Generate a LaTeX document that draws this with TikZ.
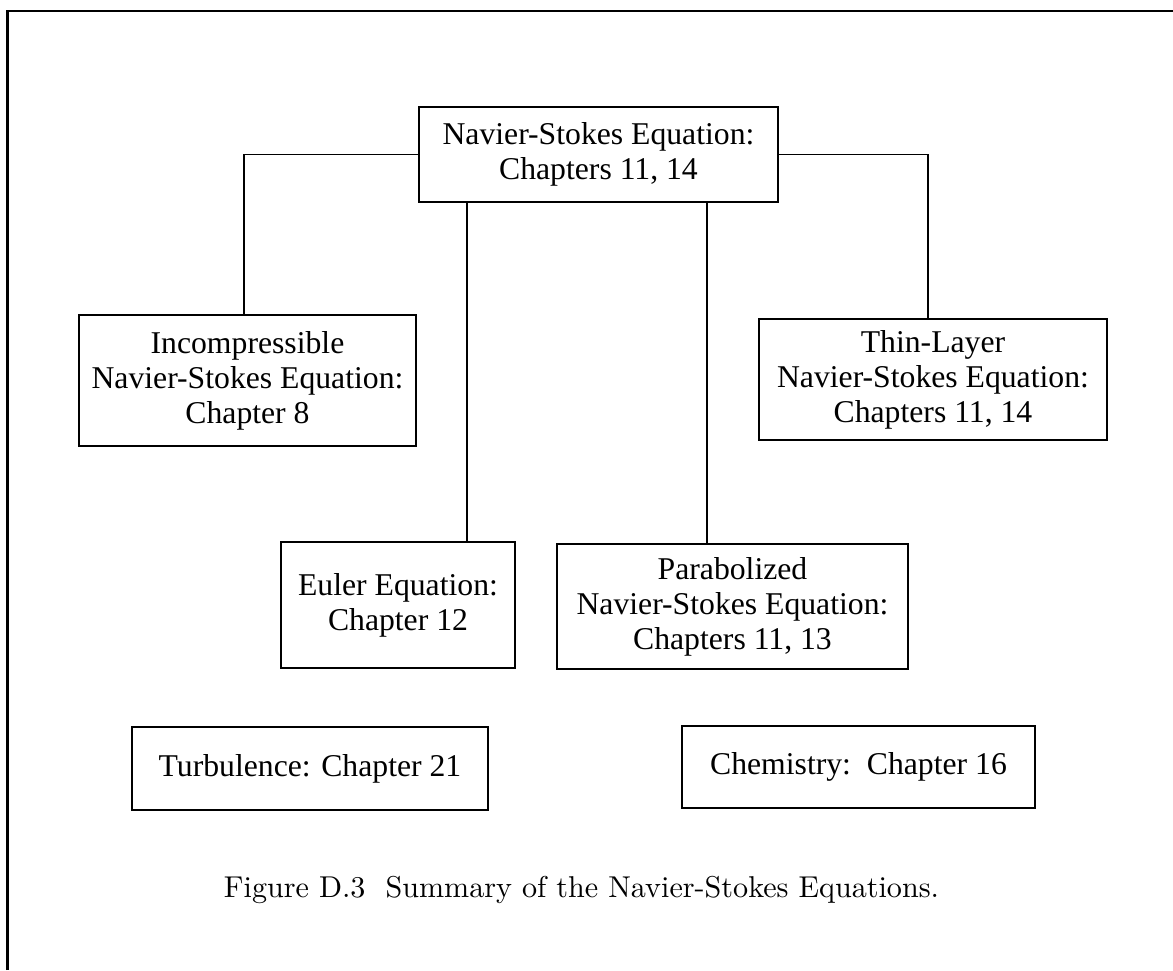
\documentclass[tikz,border=0pt]{standalone}
\usepackage{fontspec}
\newfontfamily\tms{Liberation Serif}
\usepackage{graphicx}
\begin{document}
\begin{tikzpicture}[x=0.5pt,y=-0.5pt,
  box/.style={draw,line width=1pt,inner sep=0pt,align=center,
    font=\tms\fontsize{15.85pt}{17.5pt}\selectfont},
  link/.style={line width=0.9pt},
  frame/.style={line width=1.3pt}]
\useasboundingbox (0,0) rectangle (1173,970);
% frame (left and top edges)
\coordinate (fa) at (7.5,970);
\coordinate (fb) at (7.5,11);
\coordinate (fc) at (1173,11);
\draw[frame] (fa) -- (fb) -- (fc);
% boxes
\node[box,minimum width=179.5pt,minimum height=47.5pt] (top) at (598.5,154.5)
  {Navier-Stokes Equation:\\Chapters 11, 14};
\node[box,minimum width=168.5pt,minimum height=65.5pt] (inc) at (247.5,380.5)
  {Incompressible\\Navier-Stokes Equation:\\Chapter 8};
\node[box,minimum width=174pt,minimum height=60.5pt] (thin) at (933,379.5)
  {Thin-Layer\\Navier-Stokes Equation:\\Chapters 11, 14};
\node[box,minimum width=117pt,minimum height=63pt] (euler) at (398,605)
  {Euler Equation:\\Chapter 12};
\node[box,minimum width=175.5pt,minimum height=62.5pt] (para) at (732.5,606.5)
  {Parabolized\\Navier-Stokes Equation:\\Chapters 11, 13};
\node[box,minimum width=178pt,minimum height=41.5pt] (turb) at (310,768.5)
  {Turbulence: Chapter 21};
\node[box,minimum width=176.5pt,minimum height=41pt] (chem) at (858.5,767)
  {Chemistry:\ \ Chapter 16};
% connector columns
\coordinate (cl) at (244,0);
\coordinate (ce) at (467,0);
\coordinate (cp) at (707,0);
\coordinate (cr) at (928,0);
\draw[link] (top.west) -| (inc.north -| cl);
\draw[link] (top.east) -| (thin.north -| cr);
\draw[link] (top.south -| ce) -- (euler.north -| ce);
\draw[link] (top.south -| cp) -- (para.north -| cp);
% caption
\node[inner sep=0pt] (cap) at (581.5,890)
  {\resizebox{357.5pt}{!}{Figure D.3\ \ Summary of the Navier-Stokes Equations.}};
\end{tikzpicture}
\end{document}
